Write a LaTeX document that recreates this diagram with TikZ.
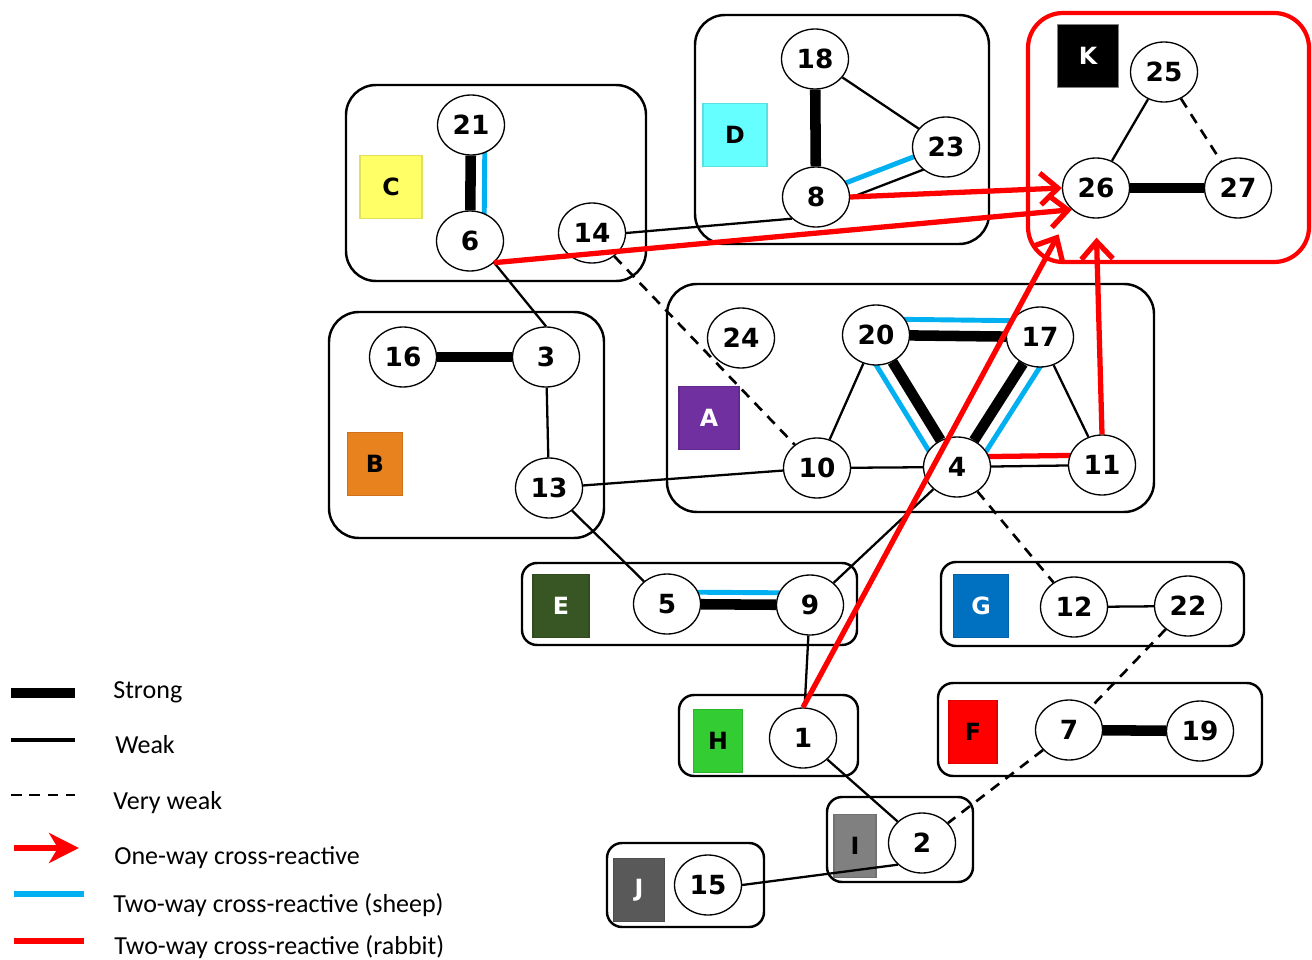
\documentclass[tikz,border=0pt]{standalone}
\usepackage{fontspec}
\setmainfont{Carlito}
\newfontfamily\numfont{DejaVu Sans}
\usetikzlibrary{arrows.meta,shapes.geometric}

\definecolor{tagC}{HTML}{FFFF66}
\definecolor{tagD}{HTML}{66FFFF}
\definecolor{tagB}{HTML}{E8821E}
\definecolor{tagA}{HTML}{7030A0}
\definecolor{tagE}{HTML}{375623}
\definecolor{tagG}{HTML}{0070C0}
\definecolor{tagH}{HTML}{33CC33}
\definecolor{tagF}{HTML}{FF0000}
\definecolor{tagI}{HTML}{808080}
\definecolor{tagJ}{HTML}{595959}
\definecolor{sheepblue}{HTML}{00B0F0}

\pgfdeclarelayer{bg}
\pgfdeclarelayer{edges}
\pgfsetlayers{bg,edges,main}

\tikzset{
  strain/.style={ellipse, draw, line width=0.75pt, fill=white,
    minimum width=1.34cm, minimum height=1.2cm, inner sep=0pt,
    font=\numfont\bfseries\fontsize{15}{17}\selectfont},
  cluster/.style={draw, line width=1.4pt, rounded corners=0.6cm},
  smallcluster/.style={draw, line width=1.4pt, rounded corners=0.3cm},
  tag/.style={rectangle, fill=#1, draw=#1!88!black, line width=0.8pt,
    minimum height=1.26cm, inner sep=0pt,
    font=\numfont\bfseries\fontsize{13.5}{15}\selectfont},
  strong/.style={line width=6pt},
  weak/.style={line width=1.3pt},
  vweak/.style={line width=1.5pt, dash pattern=on 6pt off 4.5pt},
  sheep/.style={sheepblue, line width=2.8pt},
  rabbit/.style={red, line width=3pt},
  oneway/.style={red, line width=3pt, -{Straight Barb[length=10pt,width=18pt]}},
  legend/.style={anchor=base west, inner sep=0pt, font=\fontsize{14.8}{17}\selectfont},
}

\begin{document}
\begin{tikzpicture}[x=0.02cm, y=-0.02cm]
    \useasboundingbox (0,0) rectangle (1312,960);

    % Draw the groups and their tags
    \begin{pgfonlayer}{bg}
        \draw[cluster] (346,85) rectangle (646,281);
        \draw[cluster] (695,15) rectangle (989,244);
        \draw[cluster, red, line width=2.4pt, rounded corners=0.7cm] (1028,13) rectangle (1309,262);
        \draw[cluster] (329,312) rectangle (604,538);
        \draw[cluster] (667,284) rectangle (1154,512);
        \draw[smallcluster] (522,563) rectangle (857,645);
        \draw[smallcluster] (941,562) rectangle (1244,646);
        \draw[smallcluster] (679,695) rectangle (858,776);
        \draw[smallcluster] (938,683) rectangle (1262,776);
        \draw[smallcluster] (827,797) rectangle (973,882);
        \draw[smallcluster] (607,843) rectangle (764,927);

        \node[tag=tagC, minimum width=1.24cm] (tC) at (391,187) {C};
        \node[tag=tagD, minimum width=1.28cm] (tD) at (735,135) {D};
        \node[tag=black, draw=gray, text=white, minimum width=1.22cm] (tK) at (1088,56) {K};
        \node[tag=tagB, minimum width=1.10cm] (tB) at (375,464) {B};
        \node[tag=tagA, text=white, minimum width=1.20cm] (tA) at (709,418) {A};
        \node[tag=tagE, text=white, minimum width=1.12cm] (tE) at (561,606) {E};
        \node[tag=tagG, text=white, minimum width=1.10cm] (tG) at (981,606) {G};
        \node[tag=tagH, minimum width=0.98cm] (tH) at (718,741) {H};
        \node[tag=tagF, minimum width=0.96cm] (tF) at (973,732) {F};
        \node[tag=tagI, minimum width=0.84cm] (tI) at (855,846) {I};
        \node[tag=tagJ, text=white, minimum width=1.02cm] (tJ) at (639,890) {J};
    \end{pgfonlayer}

    % Draw the strains
    \foreach \n/\x/\y in {21/471/125, 6/470/241, 14/592/233, 18/815/59, 8/816/197,
        23/946/147, 25/1164/72, 26/1096/188, 27/1238/188, 16/403/357, 3/546/357,
        13/549/488, 24/741/338, 20/876/335, 17/1040/337, 10/817/468, 4/957/467,
        11/1102/465, 5/667/604, 9/810/605, 12/1074/607, 22/1188/606, 1/803/738,
        7/1069/730, 19/1200/731, 2/922/843, 15/708/885}
        \node[strain] (n\n) at (\x,\y) {\n};

    % Draw the links
    \begin{pgfonlayer}{edges}
        % strong
        \draw[strong] (n21) -- (n6);
        \draw[strong] (n18) -- (n8);
        \draw[strong] (n16) -- (n3);
        \draw[strong] (n26) -- (n27);
        \draw[strong] (n20) -- (n17);
        \draw[strong] (n20) -- (n4);
        \draw[strong] (n17) -- (n4);
        \draw[strong] (n5) -- (n9);
        \draw[strong] (n7) -- (n19);

        % two-way (sheep) and (rabbit)
        \draw[sheep, transform canvas={shift={(14,0)}}] (n21.center) -- (n6.center);
        \draw[sheep, transform canvas={shift={(1,-3)}}] (n8.center) -- (n23.center);
        \draw[sheep, transform canvas={shift={(0,-16)}}] (n20.center) -- (n17.center);
        \draw[sheep, transform canvas={shift={(-14,7)}}] (n20.center) -- (n4.center);
        \draw[sheep, transform canvas={shift={(14,8)}}] (n17.center) -- (n4.center);
        \draw[sheep, transform canvas={shift={(0,-12)}}] (n5.center) -- (n9.center);
        \draw[rabbit, transform canvas={shift={(0,-10)}}] (n4.center) -- (n11.center);

        % weak
        \draw[weak] (n14.east) -- (n8.south west);
        \draw[weak] (n6.south east) -- (n3.north);
        \draw[weak, transform canvas={shift={(5,12)}}] (n8.center) -- (n23.center);
        \draw[weak] (n2.south west) -- (n15.east);
        \foreach \a/\b in {3/13, 13/10, 13/5, 18/23, 25/26, 20/10, 10/4, 17/11,
            4/11, 4/9, 9/1, 12/22, 1/2}
            \draw[weak] (n\a) -- (n\b);

        % very weak
        \foreach \a/\b in {14/10, 25/27, 4/12, 22/7, 7/2}
            \draw[vweak] (n\a) -- (n\b);
    \end{pgfonlayer}

    % Draw one-way arrows
    \draw[oneway] (n8.east) -- (n26.west);
    \draw[oneway] (n6.south east) -- (n26.south west);
    \draw[oneway, shorten >=0.56cm] (n1.north) -- (n26.south west);
    \draw[oneway, shorten >=0.38cm] (n11.north) -- (n26.south);

    % Add the legend
    \draw[strong] (11,693) -- (75,693);
    \draw[weak, line width=1.8pt] (11,740) -- (75,740);
    \draw[vweak, line width=1.3pt] (11,795) -- (75,795);
    \draw[red, line width=3.4pt, -{Stealth[length=17pt,width=17pt,inset=5pt]}] (14,848) -- (79,848);
    \draw[sheep, line width=3.2pt] (14,894) -- (84,894);
    \draw[rabbit, line width=3.4pt] (14,941) -- (84,941);
    \node[legend] (lStrong) at (113,698) {Strong};
    \node[legend] (lWeak) at (115,753) {Weak};
    \node[legend] (lVweak) at (113,809) {Very weak};
    \node[legend] (lOneway) at (114,864) {One-way cross-reactive};
    \node[legend] (lSheep) at (113,912) {Two-way cross-reactive (sheep)};
    \node[legend] (lRabbit) at (114,954) {Two-way cross-reactive (rabbit)};
\end{tikzpicture}
\end{document}
